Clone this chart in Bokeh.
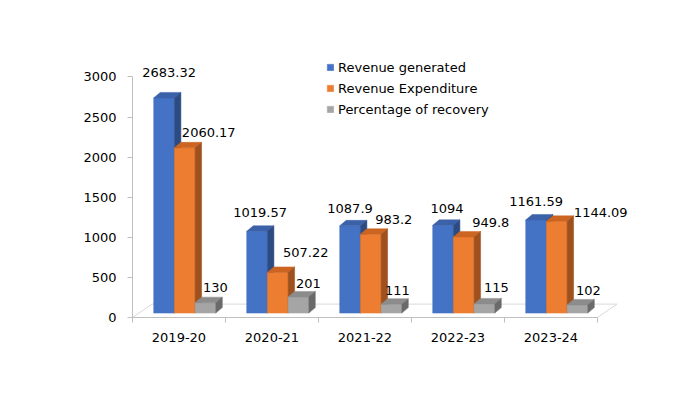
from bokeh.plotting import figure
from bokeh.models import Range1d, FixedTicker, Legend, LegendItem
from bokeh.core.properties import value
from bokeh.embed import file_html
from bokeh.resources import INLINE

# ---------------- data ----------------
categories = ["2019-20", "2020-21", "2021-22", "2022-23", "2023-24"]
revenue_generated = [2683.32, 1019.57, 1087.9, 1094, 1161.59]
revenue_expenditure = [2060.17, 507.22, 983.2, 949.8, 1144.09]
percentage_recovery = [130, 201, 111, 115, 102]
series_names = ["Revenue generated", "Revenue Expenditure", "Percentage of recovery"]
y_ticks = [0, 500, 1000, 1500, 2000, 2500, 3000]

series = [revenue_generated, revenue_expenditure, percentage_recovery]

# ---------------- layout / style ----------------
PX_X = 93.0          # pixels per category
PX_Y = 0.0802        # pixels per value unit
FRAME_W, FRAME_H = 518, 277
BAR_X0 = 0.228       # left offset of first bar inside category
BAR_W = 0.2225       # bar width (category units)
BASE = 4.4 / PX_Y    # bars stand a little behind the front floor edge
DX = 6.5 / PX_X      # 3D depth offset (x)
DY = 5.5 / PX_Y      # 3D depth offset (y)
FLOOR_DX = 19.5 / PX_X
FLOOR_DY = 13.4 / PX_Y

FRONT = ["#4472C4", "#ED7D31", "#A5A5A5"]
TOP = ["#3B62A9", "#CC6522", "#8C8C8C"]
SIDE = ["#2C4B82", "#9E501E", "#6A6A6A"]
AXIS_COLOR = "#BFBFBF"
FLOOR_COLOR = "#D9D9D9"
FONT = "DejaVu Sans"
FS = "13px"

# label nudges (pixels: right, up) relative to bar centre / back top edge
LABEL_DX = [[5, 3, 0, 4, 0], [24, 28, 23, 27, 44], [10, 10, 6, 12, 11]]
LABEL_DY = [[20, 13.5, 12, 11, 13], [10, 14.5, 9, 9, 3.6], [9.4, 8, 8, 10.6, 8.6]]

n = len(categories)

p = figure(
    x_range=Range1d(0, FRAME_W / PX_X),
    y_range=Range1d(0, FRAME_H / PX_Y),
    frame_width=FRAME_W, frame_height=FRAME_H,
    min_border_left=132, min_border_right=22,
    min_border_top=40, min_border_bottom=71,
    output_backend="svg", toolbar_location=None,
)
p.outline_line_color = None
p.xgrid.visible = False
p.ygrid.visible = False
p.background_fill_color = "white"
p.border_fill_color = "white"

# floor
p.patch(x=[0, n, n + FLOOR_DX, FLOOR_DX], y=[0, 0, FLOOR_DY, FLOOR_DY],
        fill_color="white", line_color=FLOOR_COLOR, line_width=1)

legend_items = []
for s, vals in enumerate(series):
    lefts = [i + BAR_X0 + s * BAR_W for i in range(n)]
    rights = [l + BAR_W for l in lefts]
    tops = [BASE + v for v in vals]
    bottoms = [BASE] * n
    front = p.quad(left=lefts, right=rights, bottom=bottoms, top=tops,
                   fill_color=FRONT[s], line_color=FRONT[s], line_width=0.5)
    p.patches(xs=[[l, r, r + DX, l + DX] for l, r in zip(lefts, rights)],
              ys=[[t, t, t + DY, t + DY] for t in tops],
              fill_color=TOP[s], line_color=TOP[s], line_width=0.5)
    p.patches(xs=[[r, r + DX, r + DX, r] for r in rights],
              ys=[[BASE, BASE + DY, t + DY, t] for t in tops],
              fill_color=SIDE[s], line_color=SIDE[s], line_width=0.5)
    legend_items.append(LegendItem(label=series_names[s], renderers=[front]))

    lx = [(l + r) / 2 + LABEL_DX[s][i] / PX_X for i, (l, r) in enumerate(zip(lefts, rights))]
    ly = [t + DY + LABEL_DY[s][i] / PX_Y for i, t in enumerate(tops)]
    p.text(x=lx, y=ly, text=[f"{v:g}" for v in vals],
           text_font=value(FONT), text_font_size=FS, text_color="black",
           text_align="center", text_baseline="middle")

# axes
p.xaxis.ticker = FixedTicker(ticks=[i + 0.5 for i in range(n)],
                             minor_ticks=list(range(n + 1)))
p.xaxis.major_label_overrides = {i + 0.5: c for i, c in enumerate(categories)}
p.xaxis.bounds = (0, n)
p.xaxis.major_tick_line_color = None
p.xaxis.major_tick_out = 0
p.xaxis.major_tick_in = 0
p.xaxis.minor_tick_out = 5
p.xaxis.minor_tick_in = 0
p.xaxis.minor_tick_line_color = AXIS_COLOR
p.xaxis.major_label_standoff = 10

p.yaxis.ticker = FixedTicker(ticks=y_ticks)
p.yaxis.bounds = (y_ticks[0], y_ticks[-1])
p.yaxis.major_tick_out = 5
p.yaxis.major_tick_in = 0
p.yaxis.minor_tick_line_color = None
p.yaxis.major_tick_line_color = AXIS_COLOR
p.yaxis.major_label_standoff = 11

for ax in (p.xaxis[0], p.yaxis[0]):
    ax.axis_line_color = AXIS_COLOR
    ax.major_label_text_font = FONT
    ax.major_label_text_font_size = FS
    ax.major_label_text_color = "black"

legend = Legend(items=legend_items, location=(194, 199),
                glyph_width=8, glyph_height=8, label_height=18, spacing=3,
                padding=0, margin=0, label_standoff=4,
                border_line_color=None, background_fill_alpha=0,
                label_text_font=FONT, label_text_font_size=FS,
                label_text_color="black")
p.add_layout(legend)

open("out.html", "w").write(file_html(p, INLINE))
